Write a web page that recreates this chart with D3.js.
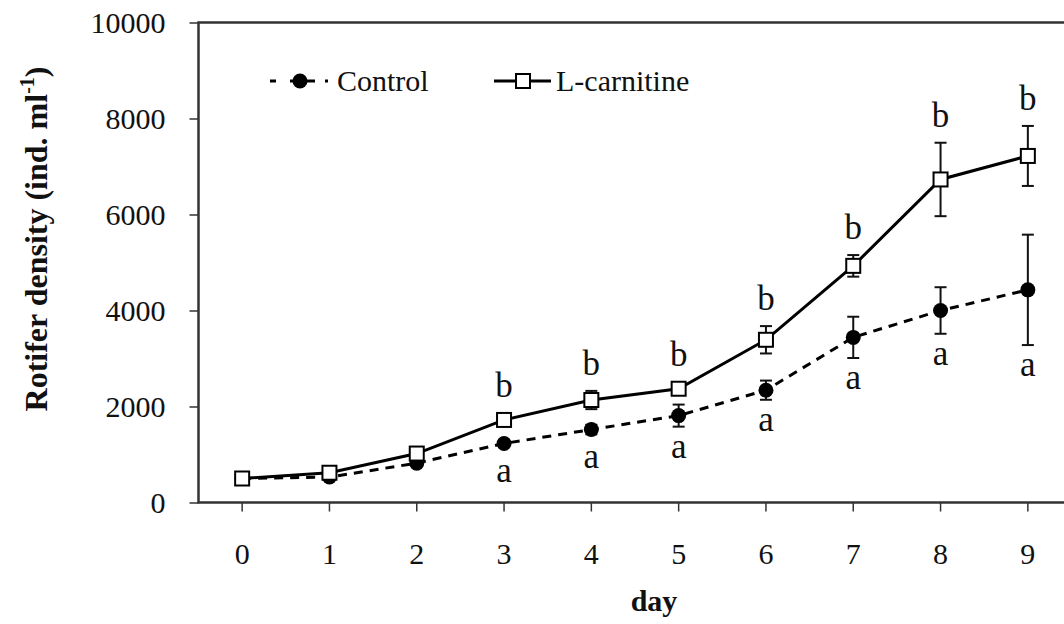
<!DOCTYPE html>
<html>
<head>
<meta charset="utf-8">
<script src="https://cdn.jsdelivr.net/npm/d3@7"></script>
<style>
  html, body { margin: 0; padding: 0; background: #fff; }
  svg { display: block; }
  text { font-family: "Liberation Serif", "Times New Roman", serif; fill: #111; }
</style>
</head>
<body>
<svg id="chart" width="1064" height="624"></svg>
<script>
// Rotifer density over 10 days, mean ± error
const days = [0, 1, 2, 3, 4, 5, 6, 7, 8, 9];
const yTicks = [0, 2000, 4000, 6000, 8000, 10000];

const controlMean = [500, 530, 820, 1230, 1520, 1810, 2340, 3440, 4000, 4430];
const controlErr  = [30, 40, 60, 70, 100, 230, 200, 430, 485, 1150];
const controlSig  = ["", "", "", "a", "a", "a", "a", "a", "a", "a"];

const carnMean = [500, 620, 1020, 1720, 2135, 2370, 3390, 4930, 6730, 7220];
const carnErr  = [30, 40, 60, 80, 190, 100, 285, 225, 765, 625];
const carnSig  = ["", "", "", "b", "b", "b", "b", "b", "b", "b"];

const seriesNames = ["Control", "L-carnitine"];

const svg = d3.select("#chart");
const plotLeft = 198.5, plotTop = 22.5, plotBottom = 502.5, plotRight = 1071.5;

const x = d3.scaleBand().domain(days).range([plotLeft, plotRight]).padding(0);
const cx = d => x(d) + x.bandwidth() / 2;
const y = d3.scaleLinear().domain([0, 10000]).range([plotBottom, plotTop]);

const axisColor = "#333";
const serif = "'Liberation Serif', 'Times New Roman', serif";

// Y axis
const gy = svg.append("g")
  .attr("transform", `translate(${plotLeft},0)`)
  .call(d3.axisLeft(y).tickValues(yTicks).tickSize(9).tickPadding(24).tickFormat(d3.format("d")));
gy.select(".domain").remove();
gy.selectAll(".tick line").attr("stroke", axisColor).attr("stroke-width", 1.5);
gy.selectAll(".tick text").attr("font-size", 30).attr("dy", "0.33em")
  .style("font-family", serif).attr("fill", "#111");

// X axis
const gx = svg.append("g")
  .attr("transform", `translate(0,${plotBottom})`)
  .call(d3.axisBottom(x).tickSize(9).tickPadding(31));
gx.select(".domain").remove();
gx.selectAll(".tick line").attr("stroke", axisColor).attr("stroke-width", 1.5);
gx.selectAll(".tick text").attr("font-size", 30)
  .style("font-family", serif).attr("fill", "#111");

// Plot frame (left, top, bottom)
svg.append("path")
  .attr("d", `M${plotRight + 10},${plotTop} H${plotLeft} V${plotBottom} H${plotRight + 10}`)
  .attr("fill", "none").attr("stroke", axisColor).attr("stroke-width", 2.5);

// Series drawing helper
function drawSeries(mean, err, opts) {
  const g = svg.append("g");
  const line = d3.line().x((d, i) => cx(days[i])).y(d => y(d));
  g.append("path").datum(mean)
    .attr("d", line).attr("fill", "none").attr("stroke", "#000")
    .attr("stroke-width", 3).attr("stroke-dasharray", opts.dash || null);

  // error bars
  days.forEach((d, i) => {
    const x0 = cx(d), y1 = y(mean[i] + err[i]), y2 = y(mean[i] - err[i]);
    g.append("line").attr("x1", x0).attr("x2", x0).attr("y1", y1).attr("y2", y2)
      .attr("stroke", "#111").attr("stroke-width", 2);
    [y1, y2].forEach(yy => g.append("line")
      .attr("x1", x0 - 6).attr("x2", x0 + 6).attr("y1", yy).attr("y2", yy)
      .attr("stroke", "#111").attr("stroke-width", 2));
  });

  // markers
  days.forEach((d, i) => {
    if (opts.marker === "circle") {
      g.append("circle").attr("cx", cx(d)).attr("cy", y(mean[i])).attr("r", 7.5).attr("fill", "#000");
    } else {
      g.append("rect").attr("x", cx(d) - 7).attr("y", y(mean[i]) - 7)
        .attr("width", 14).attr("height", 14)
        .attr("fill", "#fff").attr("stroke", "#000").attr("stroke-width", 2);
    }
  });
  return g;
}

drawSeries(controlMean, controlErr, { marker: "circle", dash: "9,7" });
drawSeries(carnMean, carnErr, { marker: "square" });

// Significance letters
const letters = svg.append("g").attr("font-size", 35).attr("text-anchor", "middle");
days.forEach((d, i) => {
  if (carnSig[i]) {
    const topEdge = Math.min(y(carnMean[i] + carnErr[i]), y(carnMean[i]) - 7);
    letters.append("text").attr("x", cx(d)).attr("y", topEdge - 16).text(carnSig[i]);
  }
  if (controlSig[i]) {
    const botEdge = Math.max(y(controlMean[i] - controlErr[i]), y(controlMean[i]) + 7.5);
    letters.append("text").attr("x", cx(d)).attr("y", botEdge + 31).text(controlSig[i]);
  }
});

// Legend
const lg = svg.append("g");
const ly = 81;
lg.append("line").attr("x1", 270).attr("x2", 330).attr("y1", ly).attr("y2", ly)
  .attr("stroke", "#000").attr("stroke-width", 3).attr("stroke-dasharray", "6,14,25,10,3,40");
lg.append("circle").attr("cx", 300).attr("cy", ly).attr("r", 7.5).attr("fill", "#000");
lg.append("text").attr("x", 337).attr("y", ly).attr("dy", "0.33em").attr("font-size", 30).text(seriesNames[0]);

lg.append("line").attr("x1", 494).attr("x2", 551).attr("y1", ly).attr("y2", ly)
  .attr("stroke", "#000").attr("stroke-width", 3);
lg.append("rect").attr("x", 516).attr("y", ly - 7).attr("width", 14).attr("height", 14)
  .attr("fill", "#fff").attr("stroke", "#000").attr("stroke-width", 2);
lg.append("text").attr("x", 556).attr("y", ly).attr("dy", "0.33em").attr("font-size", 30).text(seriesNames[1]);

// Axis titles
svg.append("text").attr("x", 654).attr("y", 611).attr("text-anchor", "middle")
  .attr("font-size", 30).attr("font-weight", "bold").text("day");

const yt = svg.append("text")
  .attr("transform", "translate(47,239) rotate(-90)")
  .attr("text-anchor", "middle").attr("font-size", 32).attr("font-weight", "bold");
yt.append("tspan").text("Rotifer density (ind. ml");
yt.append("tspan").attr("font-size", 20).attr("dy", -13).text("-1");
yt.append("tspan").attr("dy", 13).text(")");
</script>
</body>
</html>
